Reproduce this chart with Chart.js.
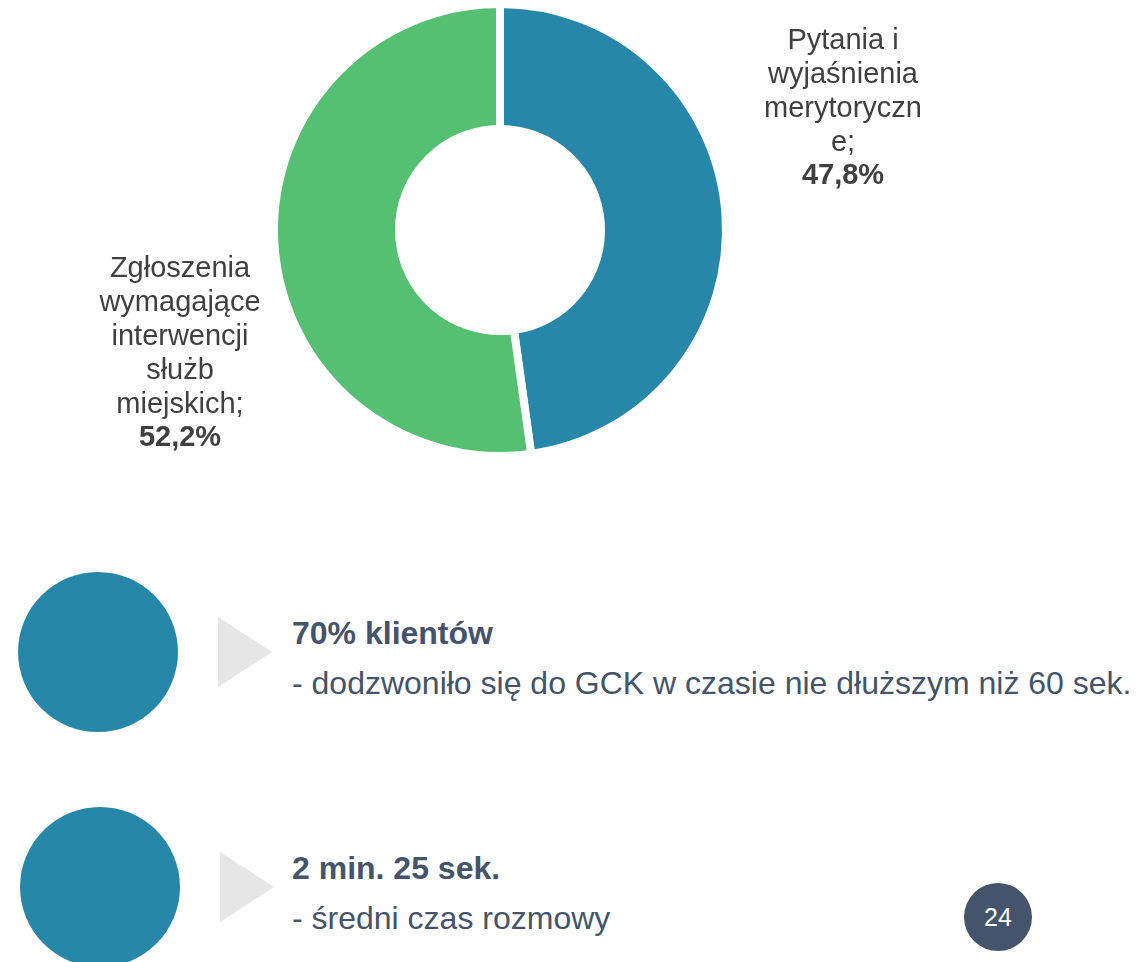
<!DOCTYPE html>
<html>
<head>
<meta charset="utf-8">
<script src="https://cdn.jsdelivr.net/npm/chart.js@4/dist/chart.umd.min.js"></script>
<style>
  html, body { margin: 0; padding: 0; background: #fff; }
  body { width: 1138px; height: 962px; position: relative; overflow: hidden; font-family: "Liberation Sans", Arial, sans-serif; }
  #wrap { position: absolute; left: 0; top: 0; width: 1138px; height: 480px; }
  .dot { position: absolute; width: 160px; height: 160px; border-radius: 50%; background: #2787A8; }
  .tri { position: absolute; width: 0; height: 0; border-top: 35px solid transparent; border-bottom: 35px solid transparent; border-left: 54px solid #E6E6E6; }
  .txt { position: absolute; left: 292px; color: #44546A; font-size: 32px; white-space: nowrap; line-height: 32px; }
  .txt b { display: block; }
  .page { position: absolute; left: 964px; top: 883px; width: 68px; height: 68px; border-radius: 50%; background: #44546A; color: #fff; font-size: 25px; text-align: center; line-height: 68px; }
</style>
</head>
<body>
<div id="wrap"><canvas id="donut" width="1138" height="480"></canvas></div>

<div class="dot" style="left:18px; top:572px;"></div>
<div class="tri" style="left:218px; top:617px;"></div>
<div class="txt" style="top:617px;"><b>70% klientów</b></div>
<div class="txt" style="top:667px;">- dodzwoniło się do GCK w czasie nie dłuższym niż 60 sek.</div>

<div class="dot" style="left:20px; top:807px;"></div>
<div class="tri" style="left:220px; top:852px;"></div>
<div class="txt" style="top:852px;"><b>2 min. 25 sek.</b></div>
<div class="txt" style="top:902px;">- średni czas rozmowy</div>

<div class="page">24</div>

<script>
// dane wykresu
const categories = ["Pytania i wyjaśnienia merytoryczne", "Zgłoszenia wymagające interwencji służb miejskich"];
const shares = [47.8, 52.2];
const sliceColors = ["#2787A8", "#55BF72"];

// etykiety w formie jak na slajdzie (podział linii)
const labelLines = [
  ["Pytania i", "wyjaśnienia", "merytoryczn", "e;"],
  ["Zgłoszenia", "wymagające", "interwencji", "służb", "miejskich;"]
];
const labelOffsets = [
  { dx: 343, dy: -189 },
  { dx: -320, dy: 39 }
];

const fmt = (v) => v.toFixed(1).replace(".", ",") + "%";

const sideLabels = {
  id: "sideLabels",
  afterDraw(chart) {
    const ctx = chart.ctx;
    const arc = chart.getDatasetMeta(0).data[0];
    const cx = arc.x, cy = arc.y;
    ctx.save();
    ctx.fillStyle = "#404040";
    ctx.textAlign = "center";
    ctx.textBaseline = "middle";
    labelLines.forEach((lines, i) => {
      let y = cy + labelOffsets[i].dy;
      const x = cx + labelOffsets[i].dx;
      ctx.font = "29px 'Liberation Sans', Arial, sans-serif";
      lines.forEach((l) => {
        ctx.fillText(l, x, y);
        y += 34;
      });
      ctx.font = "bold 29px 'Liberation Sans', Arial, sans-serif";
      ctx.fillText(fmt(shares[i]), x, y - 1);
    });
    ctx.restore();
  }
};

const donut = new Chart(document.getElementById("donut").getContext("2d"), {
  type: "doughnut",
  data: {
    labels: categories,
    datasets: [{
      data: shares,
      backgroundColor: sliceColors,
      borderColor: "#ffffff",
      borderWidth: 8,
      borderJoinStyle: "miter"
    }]
  },
  options: {
    responsive: false,
    animation: false,
    cutout: "44.7%",
    layout: { padding: { left: 270, right: 408, top: 0, bottom: 20 } },
    plugins: {
      legend: { display: false },
      tooltip: { enabled: false }
    }
  },
  plugins: [sideLabels]
});
</script>
</body>
</html>
